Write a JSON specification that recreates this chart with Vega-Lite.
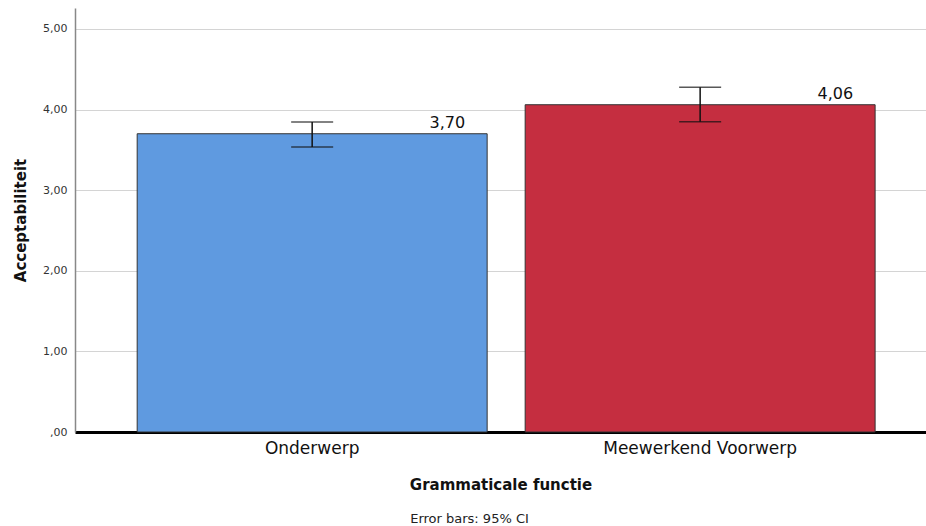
{
  "$schema": "https://vega.github.io/schema/vega-lite/v6.json",
  "width": 851,
  "height": 424,
  "autosize": {"type": "none"},
  "padding": {"left": 75, "top": 8, "right": 0, "bottom": 94},
  "background": "white",
  "config": {
    "view": {"stroke": null},
    "font": "DejaVu Sans"
  },
  "title": {
    "text": "Error bars: 95% CI",
    "orient": "bottom",
    "anchor": "middle",
    "dx": -31,
    "offset": 21,
    "fontSize": 13,
    "fontWeight": "normal",
    "color": "#222222",
    "font": "DejaVu Sans"
  },
  "data": {
    "values": [
      {"functie": "Onderwerp", "mean": 3.70, "lo": 3.536, "hi": 3.846, "label": "3,70"},
      {"functie": "Meewerkend Voorwerp", "mean": 4.06, "lo": 3.85, "hi": 4.277, "label": "4,06"}
    ]
  },
  "encoding": {
    "x": {
      "field": "functie",
      "type": "nominal",
      "sort": ["Onderwerp", "Meewerkend Voorwerp"],
      "scale": {"paddingInner": 0.098, "paddingOuter": 0.1457, "align": 0.55},
      "axis": {
        "title": "Grammaticale functie",
        "titleFontSize": 15,
        "titleFontWeight": "bold",
        "titleColor": "#111111",
        "titlePadding": 21,
        "labelAngle": 0,
        "labelFontSize": 17,
        "labelColor": "#111111",
        "labelPadding": 8,
        "labelLimit": 0,
        "ticks": false,
        "domainColor": "#000000",
        "domainWidth": 3,
        "grid": false
      }
    }
  },
  "layer": [
    {
      "mark": {"type": "bar", "stroke": "#333333", "strokeWidth": 1},
      "encoding": {
        "y": {
          "field": "mean",
          "type": "quantitative",
          "scale": {"domain": [0, 5.26], "nice": false},
          "axis": {
            "title": "Acceptabiliteit",
            "titleFontSize": 15,
            "titleFontWeight": "bold",
            "titleColor": "#111111",
            "titlePadding": 14,
            "values": [0, 1, 2, 3, 4, 5],
            "labelExpr": "datum.value == 0 ? ',00' : replace(format(datum.value, '.2f'), '.', ',')",
            "labelFontSize": 11,
            "labelColor": "#333333",
            "labelPadding": 8,
            "ticks": false,
            "domainColor": "#888888",
            "domainWidth": 1.5,
            "grid": true,
            "gridColor": "#d4d4d4",
            "gridWidth": 1
          }
        },
        "color": {
          "field": "functie",
          "type": "nominal",
          "scale": {"domain": ["Onderwerp", "Meewerkend Voorwerp"], "range": ["#5f9ae0", "#c52e40"]},
          "legend": null
        }
      }
    },
    {
      "mark": {"type": "rule", "color": "#111111", "strokeWidth": 1.5},
      "encoding": {
        "y": {"field": "lo", "type": "quantitative"},
        "y2": {"field": "hi"}
      }
    },
    {
      "mark": {"type": "tick", "color": "#111111", "size": 42, "thickness": 1.5},
      "encoding": {
        "y": {"field": "lo", "type": "quantitative"}
      }
    },
    {
      "mark": {"type": "tick", "color": "#111111", "size": 42, "thickness": 1.5},
      "encoding": {
        "y": {"field": "hi", "type": "quantitative"}
      }
    },
    {
      "mark": {"type": "text", "align": "right", "baseline": "bottom", "dx": 153, "dy": -3, "fontSize": 16, "color": "#111111"},
      "encoding": {
        "y": {"field": "mean", "type": "quantitative"},
        "text": {"field": "label"}
      }
    }
  ]
}
